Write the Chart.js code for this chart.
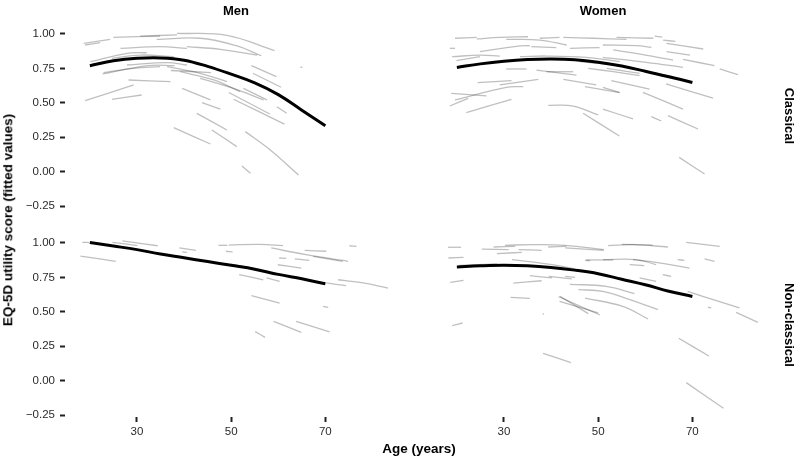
<!DOCTYPE html>
<html>
<head>
<meta charset="utf-8">
<script src="https://cdn.jsdelivr.net/npm/chart.js@4.4.1/dist/chart.umd.min.js"></script>
<style>
  html, body { margin: 0; padding: 0; background: #fff; }
  #figure { position: relative; width: 798px; height: 459px; overflow: hidden;
            font-family: "Liberation Sans", Arial, sans-serif; color: #000; }
  #figure canvas { position: absolute; left: 0; top: 0; }
  .label { position: absolute; font-weight: bold; white-space: nowrap; line-height: 1; }
</style>
</head>
<body>
<div id="figure">
  <canvas id="menClassical" width="798" height="459"></canvas>
  <canvas id="womenClassical" width="798" height="459"></canvas>
  <canvas id="menNonClassical" width="798" height="459"></canvas>
  <canvas id="womenNonClassical" width="798" height="459"></canvas>

  <div class="label" style="left:236px; top:10px; font-size:13px; transform:translate(-50%,-50%)">Men</div>
  <div class="label" style="left:603px; top:10px; font-size:13px; transform:translate(-50%,-50%)">Women</div>
  <div class="label" style="left:789px; top:116px; font-size:13px; transform:translate(-50%,-50%) rotate(90deg)">Classical</div>
  <div class="label" style="left:789px; top:325px; font-size:13px; transform:translate(-50%,-50%) rotate(90deg)">Non-classical</div>
  <div class="label" style="left:8px; top:220px; font-size:13.5px; transform:translate(-50%,-50%) rotate(-90deg)">EQ-5D utility score (fitted values)</div>
  <div class="label" style="left:419px; top:449px; font-size:13.5px; transform:translate(-50%,-50%)">Age (years)</div>
</div>

<script>
// axis ticks and limits
const ageTicks = [30, 50, 70];
const scoreTicks = [-0.25, 0, 0.25, 0.5, 0.75, 1];
const ageLimits = [14.72, 87.33];
const scoreLimits = [-0.2636, 1.0726];

// population fitted curves, [age, score]
const menClassicalFit = [[20,0.770],[25,0.805],[30,0.823],[35,0.826],[40,0.810],[45,0.765],[50,0.708],[55,0.645],[60,0.560],[65,0.447],[70,0.334]];
const womenClassicalFit = [[20,0.757],[25,0.783],[30,0.802],[35,0.814],[40,0.818],[45,0.813],[50,0.795],[55,0.767],[60,0.730],[65,0.690],[70,0.648]];
const menNonClassicalFit = [[20,1.003],[25,0.978],[30,0.952],[35,0.920],[40,0.893],[45,0.865],[50,0.838],[55,0.810],[60,0.772],[65,0.740],[70,0.704]];
const womenNonClassicalFit = [[20,0.826],[25,0.834],[30,0.838],[35,0.834],[40,0.822],[45,0.803],[50,0.777],[55,0.737],[60,0.697],[65,0.650],[70,0.612]];

// individual fitted trajectories, each a list of [age, score]
const menClassicalLines = [
  [[18.7,0.932],[24.3,0.961]],
  [[19.0,0.920],[22.2,0.937]],
  [[25.0,0.976],[34.9,0.985]],
  [[30.7,0.985],[38.5,0.993]],
  [[38.5,1.005],[49.1,0.990],[59.2,0.879]],
  [[34.2,0.961],[43.4,0.969],[51.1,0.915],[56.4,0.842]],
  [[40.6,0.908],[47.7,0.889],[55.5,0.847]],
  [[26.5,0.896],[34.9,0.908],[40.6,0.896]],
  [[20.1,0.799],[27.9,0.860],[32.1,0.864]],
  [[24.7,0.823],[30.7,0.847],[37.8,0.835]],
  [[27.9,0.775],[36.4,0.792],[40.6,0.775]],
  [[22.9,0.719],[29.3,0.751],[34.9,0.763]],
  [[22.7,0.710],[32.3,0.770],[38.0,0.770]],
  [[37.2,0.735],[45.7,0.720]],
  [[36.4,0.763],[43.4,0.714],[49.1,0.654]],
  [[39.2,0.726],[46.3,0.666],[51.9,0.581]],
  [[43.4,0.678],[50.5,0.605],[56.9,0.521]],
  [[54.3,0.770],[59.6,0.690]],
  [[54.6,0.715],[60.6,0.613]],
  [[52.6,0.605],[57.6,0.521]],
  [[49.5,0.575],[58.2,0.419]],
  [[50.5,0.526],[61.3,0.346]],
  [[28.2,0.666],[37.1,0.654]],
  [[19.0,0.516],[29.3,0.630]],
  [[24.7,0.526],[31.0,0.557]],
  [[39.6,0.605],[45.6,0.521]],
  [[43.8,0.501],[47.7,0.455]],
  [[42.7,0.424],[49.1,0.303]],
  [[45.9,0.303],[51.2,0.182]],
  [[53.0,0.291],[58.3,0.158],[64.3,-0.024]],
  [[37.8,0.320],[45.6,0.201]],
  [[52.3,0.041],[54.1,-0.012]],
  [[59.7,0.472],[61.8,0.424]],
  [[64.7,0.760],[65.1,0.757]]
];

const womenClassicalLines = [
  [[19.6,0.969],[24.2,0.976]],
  [[24.2,0.964],[29.1,0.976],[35.1,0.980]],
  [[30.5,0.961],[37.6,0.956],[43.3,0.920]],
  [[37.6,0.969],[41.8,0.976]],
  [[42.6,0.976],[49.0,0.969],[56.0,0.961]],
  [[53.9,0.976],[61.7,0.969]],
  [[62.0,0.985],[63.6,0.978]],
  [[63.8,0.956],[66.4,0.946]],
  [[64.5,0.932],[72.3,0.891]],
  [[18.5,0.896],[19.6,0.896]],
  [[24.9,0.872],[33.4,0.913],[35.5,0.915]],
  [[35.8,0.908],[41.1,0.901]],
  [[44.0,0.896],[50.3,0.901]],
  [[51.0,0.920],[58.1,0.915],[61.3,0.903]],
  [[53.2,0.884],[59.5,0.850],[65.9,0.811]],
  [[64.5,0.872],[69.5,0.847]],
  [[68.0,0.816],[74.7,0.770]],
  [[75.8,0.746],[79.7,0.705]],
  [[19.0,0.835],[24.9,0.847],[29.1,0.840]],
  [[19.9,0.806],[24.9,0.835]],
  [[33.4,0.835],[39.0,0.840],[47.5,0.830],[54.6,0.799]],
  [[51.0,0.830],[60.2,0.794],[68.0,0.758]],
  [[46.1,0.799],[53.2,0.775],[60.3,0.726],[65.9,0.690]],
  [[30.5,0.746],[34.8,0.746]],
  [[36.9,0.738],[45.4,0.702]],
  [[39.0,0.726],[44.7,0.726]],
  [[47.9,0.751],[53.2,0.726],[58.8,0.697]],
  [[51.8,0.751],[58.8,0.714]],
  [[24.4,0.647],[31.6,0.661]],
  [[29.1,0.630],[37.3,0.671]],
  [[42.6,0.671],[49.6,0.630]],
  [[47.2,0.618],[54.6,0.574]],
  [[52.8,0.661],[60.9,0.600]],
  [[64.4,0.637],[74.4,0.535]],
  [[18.8,0.569],[26.3,0.550]],
  [[19.6,0.521],[30.5,0.613],[34.1,0.618]],
  [[18.5,0.477],[22.4,0.533]],
  [[22.0,0.429],[31.6,0.526]],
  [[51.0,0.613],[54.5,0.576]],
  [[59.5,0.576],[68.0,0.455]],
  [[39.4,0.482],[44.7,0.477],[50.0,0.412]],
  [[51.0,0.455],[57.4,0.383]],
  [[46.8,0.424],[54.5,0.259]],
  [[61.3,0.400],[63.4,0.368]],
  [[64.8,0.407],[71.2,0.310]],
  [[67.2,0.104],[72.6,-0.017]]
];

const menNonClassicalLines = [
  [[18.0,0.905],[25.5,0.867]],
  [[18.4,1.005],[19.9,1.003]],
  [[24.8,1.005],[30.1,0.981]],
  [[26.9,1.015],[34.4,0.980]],
  [[39.0,0.964],[42.5,0.947]],
  [[39.6,0.936],[40.6,0.932]],
  [[47.3,0.983],[49.2,0.983]],
  [[49.5,0.985],[56.2,0.990],[61.0,0.981]],
  [[48.9,0.940],[50.3,0.935]],
  [[58.5,0.964],[65.9,0.915],[74.8,0.867]],
  [[65.6,0.947],[70.2,0.940]],
  [[60.2,0.891],[61.7,0.889]],
  [[63.5,0.884],[66.6,0.874]],
  [[67.4,0.903],[73.7,0.867]],
  [[59.9,0.842],[64.9,0.818]],
  [[75.1,0.980],[76.6,0.976]],
  [[50.0,0.845],[56.5,0.805]],
  [[51.7,0.770],[56.8,0.733]],
  [[57.5,0.746],[60.3,0.722]],
  [[70.2,0.710],[74.4,0.690]],
  [[72.7,0.733],[78.0,0.710],[83.3,0.673]],
  [[54.3,0.617],[60.3,0.564]],
  [[69.5,0.540],[70.6,0.533]],
  [[59.0,0.431],[64.9,0.351]],
  [[63.8,0.431],[70.9,0.354]],
  [[55.1,0.356],[57.2,0.315]]
];

const womenNonClassicalLines = [
  [[18.1,0.969],[20.9,0.969]],
  [[25.3,0.956],[31.0,0.952]],
  [[27.8,0.971],[32.4,0.976]],
  [[30.2,0.983],[35.9,0.988],[43.0,0.983],[51.2,0.952]],
  [[28.5,0.923],[33.8,0.932]],
  [[33.1,0.952],[38.0,0.947]],
  [[39.4,0.971],[43.3,0.976]],
  [[43.0,0.964],[51.2,0.947]],
  [[52.1,0.981],[57.4,0.988],[64.8,0.971]],
  [[55.0,0.990],[61.6,0.985]],
  [[68.7,1.005],[75.8,0.976]],
  [[18.2,0.891],[21.4,0.896]],
  [[20.5,0.838],[28.5,0.848]],
  [[31.7,0.879],[40.2,0.843],[45.8,0.806]],
  [[47.2,0.874],[48.3,0.872]],
  [[47.5,0.877],[53.2,0.877]],
  [[51.0,0.879],[58.1,0.879],[62.3,0.843]],
  [[57.4,0.879],[62.3,0.860],[69.4,0.818]],
  [[56.7,0.843],[59.8,0.835]],
  [[66.9,0.879],[68.3,0.874]],
  [[72.6,0.884],[74.7,0.867]],
  [[18.6,0.714],[21.4,0.729]],
  [[32.0,0.709],[38.0,0.726]],
  [[35.5,0.763],[40.2,0.746]],
  [[39.5,0.758],[44.4,0.739]],
  [[43.0,0.758],[45.1,0.751]],
  [[63.7,0.770],[65.5,0.758]],
  [[58.8,0.746],[62.3,0.722]],
  [[31.4,0.605],[35.5,0.598]],
  [[38.2,0.486],[38.5,0.484]],
  [[19.0,0.400],[21.2,0.419]],
  [[44.0,0.700],[51.7,0.685],[57.7,0.632]],
  [[45.8,0.661],[51.0,0.649],[56.7,0.588],[62.7,0.516]],
  [[41.9,0.613],[47.9,0.487]],
  [[41.8,0.576],[50.0,0.492]],
  [[47.2,0.600],[55.2,0.540],[60.6,0.448]],
  [[41.6,0.610],[50.4,0.477]],
  [[69.0,0.649],[72.2,0.613],[80.0,0.528]],
  [[73.3,0.535],[74.0,0.528]],
  [[79.3,0.496],[83.9,0.424]],
  [[67.1,0.308],[73.5,0.179]],
  [[38.3,0.199],[44.2,0.131]],
  [[68.7,-0.014],[76.6,-0.200]]
];

Chart.defaults.font.family = '"Liberation Sans", Arial, sans-serif';

const tickFont = { size: 11.5 };
const labelColor = '#2b2b2b';
const tickMarkColor = '#222';

// each facet is its own chart; padding puts its plot area where the panel sits
const panels = [
  { id: 'menClassical', fit: menClassicalFit, lines: menClassicalLines,
    padding: { left: 0, top: 24, right: 391, bottom: 251 }, showX: false, showY: true },
  { id: 'womenClassical', fit: womenClassicalFit, lines: womenClassicalLines,
    padding: { left: 432, top: 24, right: 24, bottom: 251 }, showX: false, showY: false },
  { id: 'menNonClassical', fit: menNonClassicalFit, lines: menNonClassicalLines,
    padding: { left: 0, top: 233, right: 391, bottom: 0 }, showX: true, showY: true },
  { id: 'womenNonClassical', fit: womenNonClassicalFit, lines: womenNonClassicalLines,
    padding: { left: 432, top: 233, right: 24, bottom: 0 }, showX: true, showY: false }
];

const toPoints = seg => seg.map(([age, score]) => ({ x: age, y: score }));

panels.forEach(p => {
  // first dataset is drawn on top
  const datasets = [{
    data: toPoints(p.fit),
    borderColor: '#000',
    borderWidth: 3,
    tension: 0.4,
    pointRadius: 0
  }];
  p.lines.forEach(seg => {
    datasets.push({
      data: toPoints(seg),
      borderColor: 'rgba(0,0,0,0.25)',
      borderWidth: 1.3,
      tension: 0.4,
      pointRadius: 0
    });
  });

  const xScale = {
    type: 'linear',
    min: ageLimits[0],
    max: ageLimits[1],
    display: p.showX,
    afterBuildTicks: s => { s.ticks = ageTicks.map(v => ({ value: v })); },
    border: { display: false },
    grid: { display: true, drawOnChartArea: false, drawTicks: true, tickLength: 5, tickWidth: 2, tickColor: tickMarkColor },
    ticks: { font: tickFont, color: labelColor, padding: 3, autoSkip: false, maxRotation: 0 }
  };
  if (p.showX) {
    xScale.afterFit = s => { s.height = 42; s.paddingLeft = 0; s.paddingRight = 0; };
  }

  const yScale = {
    type: 'linear',
    min: scoreLimits[0],
    max: scoreLimits[1],
    display: p.showY,
    afterBuildTicks: s => { s.ticks = scoreTicks.map(v => ({ value: v })); },
    border: { display: false },
    grid: { display: true, drawOnChartArea: false, drawTicks: true, tickLength: 5, tickWidth: 2, tickColor: tickMarkColor },
    ticks: {
      font: tickFont, color: labelColor, padding: 5, autoSkip: false,
      callback: v => (v < 0 ? '\u2212' : '') + Math.abs(v).toFixed(2)
    }
  };
  if (p.showY) {
    yScale.afterFit = s => { s.width = 65; s.paddingTop = 0; s.paddingBottom = 0; };
  }

  new Chart(document.getElementById(p.id), {
    type: 'line',
    data: { datasets },
    options: {
      responsive: false,
      animation: false,
      events: [],
      layout: { padding: p.padding },
      plugins: { legend: { display: false }, tooltip: { enabled: false } },
      scales: { x: xScale, y: yScale }
    }
  });
});
</script>
</body>
</html>
